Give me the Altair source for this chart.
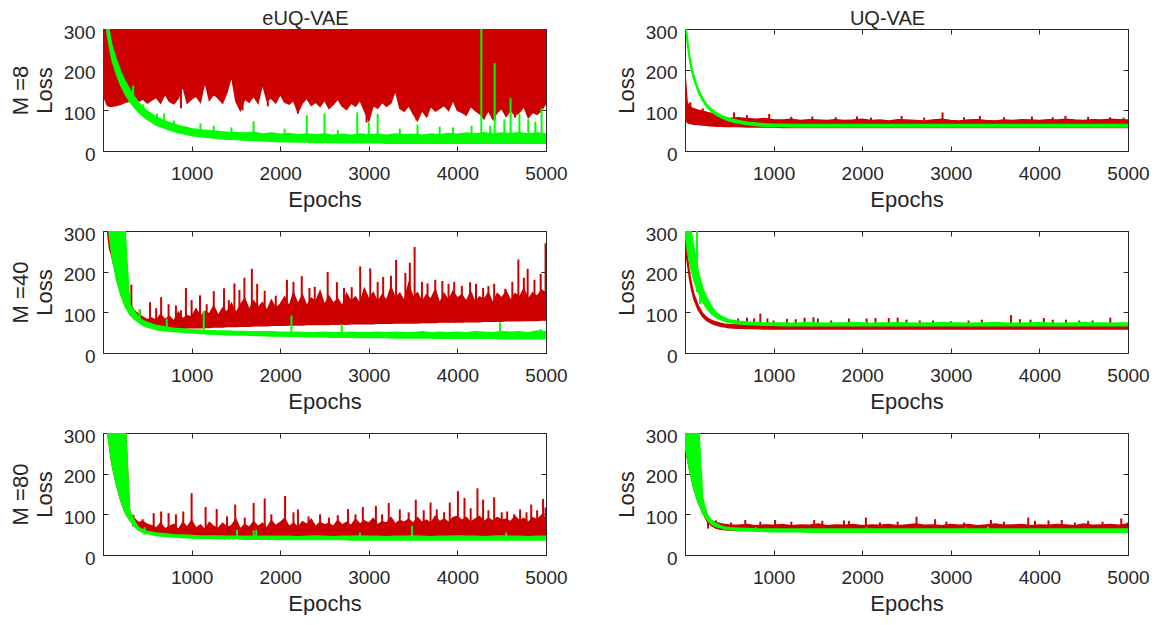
import altair as alt
import pandas as pd

# ---------------- data ----------------
EPOCHS = [0, 25, 50, 75, 100, 150, 200, 250, 300, 350, 400, 450, 500,
          600, 700, 800, 900, 1000, 1100, 1200, 1300, 1400, 1500, 1600, 1700, 1800, 1900, 2000,
          2100, 2200, 2300, 2400, 2500, 2600, 2700, 2800, 2900, 3000,
          3100, 3200, 3300, 3400, 3500, 3600, 3700, 3800, 3900, 4000,
          4100, 4200, 4300, 4400, 4500, 4600, 4700, 4800, 4900, 5000]

# finer epoch grid for the noisiest envelopes
EPOCHS_F = [0, 25, 50, 75, 100, 150, 200, 250, 300, 350, 400, 450, 500,
            550, 600, 650, 700, 750, 800, 850, 900, 950, 1000,
            1050, 1100, 1150, 1200, 1250, 1300, 1350, 1400, 1450, 1500,
            1550, 1600, 1650, 1700, 1750, 1800, 1850, 1900, 1950, 2000,
            2050, 2100, 2150, 2200, 2250, 2300, 2350, 2400, 2450, 2500,
            2550, 2600, 2650, 2700, 2750, 2800, 2850, 2900, 2950, 3000,
            3050, 3100, 3150, 3200, 3250, 3300, 3350, 3400, 3450, 3500,
            3550, 3600, 3650, 3700, 3750, 3800, 3850, 3900, 3950, 4000,
            4050, 4100, 4150, 4200, 4250, 4300, 4350, 4400, 4450, 4500,
            4550, 4600, 4650, 4700, 4750, 4800, 4850, 4900, 4950, 5000]

X_TICKS = [1000, 2000, 3000, 4000, 5000]
Y_TICKS = [0, 100, 200, 300]
COL_TITLES = ["eUQ-VAE", "UQ-VAE"]
ROW_LABELS = ["M =8", "M =40", "M =80"]

# ---- eUQ-VAE, M = 8 ----  (red band reaches above the top of the axis)
E1_RED_LO = [140, 125, 112, 110, 110, 112, 115, 120, 122, 124, 122, 128, 118,
             125, 132, 118, 140, 122, 116, 130, 160, 118, 128,
             135, 120, 172, 125, 140, 130, 118, 145, 185, 122,
             100, 128, 120, 135, 118, 165, 125, 130, 118, 140,
             120, 115, 125, 95, 118, 130, 112, 120, 110, 125,
             105, 115, 128, 110, 102, 118, 110, 125, 100, 75,
             112, 105, 120, 110, 118, 150, 105, 98, 112, 92,
             75, 100, 85, 110, 98, 105, 112, 100, 125, 100,
             95, 88, 110, 100, 92, 80, 100, 78, 95, 105,
             85, 100, 88, 95, 110, 82, 95, 90, 100, 118]
E1_RED_TOP = 330
E1_GRN_LO = [330, 330, 285, 255, 225, 190, 162, 140, 122, 108, 96, 86, 78,
             64, 56, 48, 43, 38, 35, 33, 31, 29, 28, 27, 26, 25, 24, 23,
             23, 22, 22, 21, 21, 21, 20, 20, 20, 20,
             20, 19, 19, 19, 19, 19, 19, 19, 19, 19,
             19, 19, 19, 19, 19, 19, 19, 19, 19, 19]
E1_GRN_HI = [330, 330, 310, 290, 260, 225, 195, 172, 152, 135, 120, 108, 98,
             84, 74, 66, 60, 55, 52, 50, 48, 46, 45, 44, 46, 42, 44, 41,
             43, 40, 42, 40, 42, 39, 41, 39, 42, 40,
             41, 39, 42, 40, 41, 39, 42, 40, 43, 41,
             44, 42, 45, 42, 44, 43, 45, 42, 44, 42]
E1_RED_SPIKES = [(880, 105, 150), (1575, 100, 130), (1860, 110, 140), (2200, 92, 120),
                 (2975, 70, 110), (3538, 75, 110), (3660, 85, 110), (4300, 78, 110),
                 (4420, 75, 100), (4650, 82, 110)]
E1_GRN_SPIKES = [(340, 130, 161), (455, 100, 115), (610, 75, 92), (690, 65, 92), (800, 55, 75),
                 (1100, 45, 68), (1250, 45, 62), (1450, 40, 58), (1700, 40, 73), (2050, 38, 55),
                 (2300, 35, 88), (2500, 35, 92), (2650, 38, 52), (2870, 35, 95), (3000, 35, 70),
                 (3100, 35, 91), (3350, 38, 55), (3550, 35, 65), (3800, 35, 60), (3950, 38, 58),
                 (4160, 35, 62), (4270, 35, 310), (4370, 38, 62), (4420, 35, 216), (4530, 35, 78),
                 (4600, 35, 130), (4700, 35, 91), (4800, 35, 78), (4880, 38, 72), (4950, 35, 105)]

# ---- UQ-VAE, M = 8 ----
U1_RED_LO = [90, 70, 68, 67, 66, 65, 64, 63, 62, 61, 61, 60, 60,
             60, 59, 59, 59, 59, 58, 58, 58, 58, 58, 58, 58, 58, 58, 58,
             58, 58, 58, 58, 58, 58, 58, 58, 58, 58,
             58, 58, 58, 58, 58, 58, 58, 58, 58, 58,
             58, 58, 58, 58, 58, 58, 58, 58, 58, 58]
U1_RED_HI = [190, 118, 112, 106, 104, 100, 98, 95, 92, 88, 85, 83, 80,
             82, 80, 78, 80, 77, 76, 78, 75, 77, 76, 75, 77, 75, 76, 78,
             75, 76, 74, 77, 76, 75, 74, 76, 78, 75,
             74, 76, 77, 75, 74, 76, 75, 77, 76, 75,
             77, 76, 78, 76, 75, 77, 76, 78, 77, 76]
U1_GRN_LO = [330, 265, 225, 196, 176, 145, 123, 107, 97, 89, 83, 78, 74,
             69, 65, 63, 61, 60, 60, 59, 59, 59, 59, 59, 59, 59, 59, 59,
             59, 59, 59, 59, 59, 59, 59, 59, 59, 59,
             59, 59, 59, 59, 59, 59, 59, 59, 59, 59,
             59, 59, 59, 59, 59, 59, 59, 59, 59, 59]
U1_GRN_HI = [330, 280, 238, 206, 186, 152, 130, 113, 103, 95, 89, 84, 80,
             75, 71, 69, 67, 66, 66, 65, 65, 65, 65, 65, 65, 65, 65, 65,
             65, 65, 65, 65, 65, 65, 65, 65, 65, 65,
             65, 65, 65, 65, 65, 65, 65, 65, 65, 65,
             65, 65, 65, 65, 65, 65, 65, 65, 65, 65]
U1_RED_SPIKES = [(60, 100, 120), (200, 95, 105), (554, 75, 95), (700, 75, 88), (950, 75, 91),
                 (1200, 75, 84), (1437, 75, 85), (1700, 75, 83), (1941, 75, 85), (2100, 75, 82),
                 (2445, 75, 86), (2700, 75, 82), (2907, 75, 95), (3150, 75, 83), (3328, 75, 86),
                 (3600, 75, 83), (3916, 75, 85), (4150, 75, 83), (4294, 75, 86), (4550, 75, 84),
                 (4798, 75, 83), (4950, 75, 82)]
U1_GRN_SPIKES = []

# ---- eUQ-VAE, M = 40 ----
E2_RED_LO = [330, 330, 300, 255, 238, 190, 150, 122, 102, 90, 80, 73, 68,
             66, 64, 63, 62, 61, 61, 61, 61, 62, 62,
             62, 62, 63, 63, 64, 64, 64, 65, 65, 65,
             66, 66, 66, 67, 67, 67, 67, 68, 68, 68,
             68, 69, 69, 69, 69, 70, 70, 70, 70, 70,
             70, 71, 71, 71, 71, 72, 72, 72, 72, 72,
             72, 73, 73, 73, 73, 74, 74, 74, 74, 74,
             74, 75, 75, 75, 75, 76, 76, 76, 76, 76,
             76, 77, 77, 77, 77, 78, 78, 78, 78, 78,
             79, 79, 79, 79, 80, 80, 80, 80, 81, 81]
E2_RED_HI = [330, 330, 320, 290, 262, 215, 175, 145, 125, 105, 95, 88, 82,
             86, 80, 95, 82, 90, 78, 100, 84, 92, 88,
             108, 90, 102, 96, 115, 92, 110, 100, 122, 98,
             118, 134, 106, 128, 112, 124, 104, 130, 110, 120,
             138, 114, 148, 120, 143, 116, 135, 126, 152, 118,
             140, 122, 133, 115, 146, 127, 138, 121, 158, 132,
             148, 125, 143, 129, 162, 135, 147, 127, 170, 137,
             148, 125, 143, 132, 156, 122, 146, 129, 152, 135,
             143, 127, 150, 125, 138, 132, 148, 122, 146, 135,
             152, 129, 146, 137, 158, 132, 148, 139, 155, 147]
E2_GRN_LO = [330, 330, 330, 285, 240, 182, 143, 114, 96, 84, 76, 68, 64,
             58, 55, 53, 51, 50, 48, 47, 46, 45, 44, 44, 43, 43, 42, 42,
             41, 41, 40, 40, 40, 39, 39, 39, 38, 38,
             38, 38, 37, 37, 37, 37, 37, 36, 36, 36,
             36, 36, 36, 36, 35, 35, 35, 35, 35, 35]
E2_GRN_HI = [330, 330, 330, 330, 330, 330, 330, 300, 120, 104, 88, 80, 75,
             68, 64, 61, 59, 57, 56, 55, 54, 54, 53, 53, 52, 52, 52, 51,
             51, 51, 50, 50, 51, 50, 50, 51, 50, 50,
             51, 50, 51, 50, 50, 52, 50, 51, 50, 51,
             50, 52, 51, 50, 53, 51, 52, 50, 54, 52]
E2_RED_SPIKES = [(320, 90, 168), (414, 80, 107), (530, 70, 125), (600, 70, 110), (656, 70, 137),
                 (740, 70, 120), (823, 70, 117), (880, 70, 105), (936, 70, 160), (1000, 70, 130),
                 (1095, 70, 142), (1170, 70, 120), (1250, 70, 152), (1366, 70, 159), (1420, 70, 130),
                 (1483, 70, 171), (1540, 70, 155), (1596, 70, 185), (1680, 70, 207), (1740, 70, 170),
                 (1825, 70, 153), (1950, 70, 141), (2076, 75, 180), (2150, 75, 175), (2243, 75, 189),
                 (2330, 75, 160), (2390, 75, 163), (2536, 75, 199), (2640, 75, 174), (2720, 75, 160),
                 (2807, 75, 162), (2903, 75, 213), (3016, 75, 208), (3100, 75, 175), (3162, 75, 187),
                 (3250, 75, 190), (3308, 75, 229), (3413, 75, 197), (3463, 75, 222), (3517, 75, 261),
                 (3600, 75, 175), (3663, 75, 171), (3750, 75, 180), (3830, 75, 177), (3900, 75, 170),
                 (3964, 75, 175), (4050, 80, 165), (4143, 80, 174), (4210, 80, 170), (4290, 80, 160),
                 (4350, 80, 165), (4415, 80, 170), (4540, 80, 158), (4620, 80, 175), (4688, 80, 230),
                 (4750, 80, 185), (4793, 80, 207), (4870, 80, 180), (4940, 80, 195), (4995, 80, 270)]
E2_GRN_SPIKES = [(230, 200, 300), (300, 100, 147), (414, 80, 107), (719, 60, 84), (1137, 55, 103),
                 (2127, 50, 92), (2695, 50, 71), (4480, 50, 75), (4940, 50, 59)]

# ---- UQ-VAE, M = 40 ----
U2_RED_LO = [270, 225, 185, 155, 133, 106, 89, 79, 73, 69, 66, 64, 62,
             61, 60, 60, 59, 59, 59, 59, 59, 59, 59, 59, 59, 59, 59, 59,
             59, 59, 59, 59, 59, 59, 59, 59, 59, 59,
             59, 59, 59, 59, 59, 59, 59, 59, 59, 59,
             59, 59, 59, 59, 59, 59, 59, 59, 59, 59]
U2_RED_HI = [290, 240, 198, 168, 145, 116, 97, 86, 80, 76, 73, 71, 70,
             69, 68, 68, 68, 68, 68, 68, 68, 68, 68, 68, 68, 68, 68, 68,
             68, 68, 68, 68, 68, 68, 68, 68, 68, 68,
             68, 68, 68, 68, 68, 68, 68, 68, 68, 68,
             68, 68, 68, 68, 68, 68, 68, 68, 68, 68]
U2_GRN_LO = [300, 255, 225, 200, 178, 148, 125, 108, 96, 88, 82, 78, 75,
             72, 70, 69, 68, 68, 67, 67, 67, 67, 67, 67, 67, 67, 67, 67,
             67, 67, 67, 67, 67, 67, 67, 67, 67, 67,
             67, 67, 67, 67, 67, 67, 67, 67, 67, 67,
             67, 67, 67, 67, 67, 67, 67, 67, 67, 67]
U2_GRN_HI = [330, 330, 320, 290, 260, 200, 160, 135, 115, 100, 92, 86, 82,
             78, 76, 75, 74, 74, 74, 73, 74, 75, 74, 73, 74, 74, 75, 74,
             73, 74, 74, 75, 74, 73, 74, 74, 75, 74,
             74, 73, 74, 74, 75, 74, 73, 74, 74, 75,
             74, 73, 74, 74, 75, 74, 74, 73, 74, 74]
U2_RED_SPIKES = [(600, 68, 85), (700, 68, 87), (780, 68, 85), (850, 68, 97), (930, 68, 85),
                 (1000, 68, 80), (1150, 68, 84), (1250, 68, 83), (1350, 68, 87), (1450, 68, 88),
                 (1500, 68, 85), (1650, 68, 80), (1850, 68, 85), (2050, 68, 85), (2150, 68, 86),
                 (2300, 68, 86), (2400, 68, 87), (2500, 68, 82), (2650, 68, 80), (2800, 68, 80),
                 (3000, 68, 78), (3200, 68, 80), (3350, 68, 82), (3680, 68, 93), (3780, 68, 83),
                 (3900, 68, 82), (4050, 68, 86), (4150, 68, 82), (4300, 68, 82), (4450, 68, 80),
                 (4600, 68, 80), (4800, 68, 87)]
U2_GRN_SPIKES = [(40, 250, 310), (134, 150, 310), (170, 120, 178)]

# ---- eUQ-VAE, M = 80 ----
E3_RED_LO = [330, 330, 305, 265, 225, 175, 135, 105, 88, 72, 62, 57, 54,
             52, 51, 50, 50, 49, 49, 48, 48, 48, 48,
             47, 47, 47, 47, 47, 47, 47, 47, 47, 47,
             47, 47, 47, 47, 47, 47, 47, 47, 47, 47,
             47, 47, 47, 47, 47, 47, 47, 47, 47, 47,
             47, 47, 47, 47, 47, 47, 47, 47, 47, 47,
             47, 47, 47, 47, 47, 47, 47, 47, 47, 47,
             47, 47, 47, 47, 47, 47, 47, 47, 47, 47,
             47, 47, 47, 47, 47, 47, 47, 47, 47, 47,
             47, 47, 47, 47, 47, 47, 47, 47, 47, 47]
E3_RED_HI = [330, 330, 330, 330, 330, 330, 330, 330, 100, 90, 80, 82, 75,
             72, 66, 78, 64, 70, 75, 62, 80, 68, 85,
             66, 74, 62, 80, 70, 65, 78, 68, 72, 88,
             64, 75, 68, 82, 70, 78, 66, 85, 72, 80,
             90, 70, 78, 68, 82, 75, 88, 70, 80, 74,
             78, 70, 85, 74, 80, 72, 88, 76, 84, 78,
             90, 74, 82, 78, 92, 76, 85, 80, 88, 78,
             92, 80, 86, 78, 95, 82, 88, 80, 92, 95,
             85, 92, 80, 88, 95, 82, 90, 84, 92, 86,
             88, 82, 95, 84, 90, 80, 92, 86, 98, 90]
E3_GRN_LO = [330, 330, 305, 265, 225, 175, 135, 105, 87, 72, 62, 56, 53,
             48, 46, 44, 43, 42, 41, 41, 40, 40, 40, 39, 39, 39, 39, 38,
             38, 38, 38, 38, 38, 38, 38, 37, 37, 37,
             37, 37, 37, 37, 37, 37, 37, 37, 37, 37,
             37, 37, 37, 37, 37, 37, 37, 37, 37, 37]
E3_GRN_HI = [330, 330, 330, 330, 330, 330, 330, 330, 112, 85, 68, 62, 58,
             54, 52, 50, 49, 48, 47, 47, 47, 46, 46, 46, 46, 46, 46, 46,
             46, 45, 46, 47, 46, 45, 46, 46, 47, 46,
             46, 45, 46, 46, 47, 46, 45, 46, 46, 47,
             46, 46, 45, 46, 47, 46, 46, 45, 46, 46]
E3_RED_SPIKES = [(343, 70, 99), (447, 60, 88), (572, 55, 103), (656, 55, 107), (740, 55, 103),
                 (823, 55, 100), (906, 55, 107), (1000, 55, 152), (1158, 55, 118), (1283, 55, 113),
                 (1400, 55, 95), (1492, 55, 124), (1600, 55, 92), (1700, 55, 128), (1825, 55, 139),
                 (1900, 55, 100), (2055, 55, 145), (2150, 55, 105), (2200, 55, 112), (2320, 55, 95),
                 (2450, 55, 100), (2550, 55, 92), (2650, 55, 98), (2765, 55, 113), (2850, 55, 100),
                 (2933, 55, 118), (3080, 55, 121), (3150, 55, 100), (3225, 55, 128), (3350, 55, 112),
                 (3450, 55, 105), (3530, 55, 136), (3620, 55, 110), (3697, 55, 129), (3768, 55, 112),
                 (3850, 55, 105), (3914, 55, 129), (4006, 55, 157), (4080, 55, 140), (4150, 55, 115),
                 (4226, 55, 164), (4290, 55, 136), (4350, 55, 110), (4415, 55, 142), (4500, 55, 105),
                 (4562, 55, 107), (4640, 55, 100), (4708, 55, 112), (4780, 55, 105), (4833, 55, 124),
                 (4900, 55, 110), (4967, 55, 138), (4995, 55, 117)]
E3_GRN_SPIKES = [(470, 50, 68), (1512, 42, 62), (1700, 42, 60), (1730, 42, 62), (2900, 42, 55),
                 (3488, 42, 72), (4550, 42, 55)]

# ---- UQ-VAE, M = 80 ----
U3_RED_LO = [270, 240, 212, 188, 163, 129, 105, 82, 72, 66, 63, 62, 61,
             60, 60, 60, 60, 60, 60, 60, 60, 60, 60, 60, 60, 60, 60, 60,
             60, 60, 60, 60, 60, 60, 60, 60, 60, 60,
             60, 60, 60, 60, 60, 60, 60, 60, 60, 60,
             60, 60, 60, 60, 60, 60, 60, 60, 60, 60]
U3_RED_HI = [275, 245, 215, 190, 168, 135, 110, 90, 84, 80, 77, 75, 74,
             73, 75, 72, 74, 73, 75, 72, 74, 73, 76, 72, 74, 73, 75, 72,
             74, 73, 75, 72, 74, 76, 73, 74, 72, 75,
             73, 75, 72, 74, 76, 73, 74, 75, 72, 74,
             73, 75, 74, 72, 76, 73, 74, 75, 73, 76]
U3_GRN_LO = [270, 240, 212, 188, 163, 129, 105, 86, 76, 70, 67, 64, 62,
             61, 60, 59, 58, 57, 57, 57, 57, 56, 56, 56, 56, 56, 56, 56,
             56, 56, 56, 56, 56, 56, 56, 56, 56, 56,
             56, 56, 56, 56, 56, 56, 56, 56, 56, 56,
             56, 56, 56, 56, 56, 56, 56, 56, 56, 56]
U3_GRN_HI = [330, 330, 330, 330, 330, 330, 140, 100, 85, 78, 72, 69, 67,
             66, 65, 64, 64, 64, 64, 64, 64, 64, 64, 64, 64, 64, 64, 64,
             64, 64, 64, 64, 64, 64, 64, 64, 64, 64,
             64, 64, 64, 64, 64, 64, 64, 64, 64, 64,
             64, 64, 64, 64, 64, 64, 64, 64, 64, 64]
U3_RED_SPIKES = [(260, 65, 88), (350, 65, 85), (520, 65, 80), (680, 65, 86), (850, 65, 82),
                 (1017, 65, 86), (1200, 65, 82), (1458, 65, 86), (1550, 65, 84), (1794, 65, 85),
                 (1850, 65, 84), (2042, 65, 92), (2200, 65, 80), (2400, 65, 82), (2613, 65, 94),
                 (2823, 65, 88), (2950, 65, 82), (3150, 65, 80), (3453, 65, 86), (3600, 65, 82),
                 (3874, 65, 92), (3950, 65, 84), (4103, 65, 85), (4252, 65, 86), (4400, 65, 80),
                 (4550, 65, 84), (4713, 65, 82), (4924, 65, 90), (4995, 65, 80)]
U3_GRN_SPIKES = [(197, 100, 132), (800, 60, 68), (2050, 60, 68), (3170, 60, 68), (3420, 60, 70)]

# ---------------- styling ----------------
FONT = "Liberation Sans"
TXT = "#262626"
RED = "#CC0000"
GREEN = "#00FF00"
W, H = 443, 122

XS = alt.Scale(domain=[0, 5000], nice=False, zero=False)
YS = alt.Scale(domain=[0, 300], nice=False, zero=False)


def band_df(epochs, lo, hi=None):
    d = {"epoch": epochs, "lo": lo}
    if hi is not None:
        d["hi"] = hi
    return pd.DataFrame(d)


def spike_df(sp):
    return pd.DataFrame(sp, columns=["epoch", "y0", "y1"])


def panel(red, grn, red_sp, grn_sp, ytitle, title=None):
    r_ep, r_lo, r_hi = red
    g_ep, g_lo, g_hi = grn
    const_top = isinstance(r_hi, (int, float))
    red_y2 = alt.datum(r_hi) if const_top else alt.Y2("hi:Q")
    red_df = band_df(r_ep, r_lo, None if const_top else r_hi)
    red_ch = alt.Chart(red_df).mark_area(
        color=RED, stroke=RED, strokeWidth=1.5, opacity=1, clip=True
    ).encode(
        x=alt.X("epoch:Q", scale=XS, axis=alt.Axis(
            orient="bottom", values=X_TICKS, format="d", tickSize=5, offset=-5,
            domain=False, grid=False, labelFlush=False, labelOverlap=False,
            labelPadding=13, title="Epochs", titlePadding=6)),
        y=alt.Y("lo:Q", scale=YS, axis=alt.Axis(
            orient="left", values=Y_TICKS, tickSize=5, offset=-5, domain=False,
            grid=False, labelPadding=8, labelOffset=3, labelOverlap=False,
            labelFlush=False, title=ytitle, titlePadding=7, titleLineHeight=24)),
        y2=red_y2,
    )
    layers = [red_ch]
    if red_sp:
        layers.append(alt.Chart(spike_df(red_sp)).mark_rule(
            color=RED, strokeWidth=2, clip=True).encode(
            x=alt.X("epoch:Q", scale=XS, axis=None),
            y=alt.Y("y0:Q", scale=YS, axis=None),
            y2="y1:Q"))
    green = alt.Chart(band_df(g_ep, g_lo, g_hi)).mark_area(
        color=GREEN, stroke=GREEN, strokeWidth=1.5, opacity=1, clip=True
    ).encode(
        x=alt.X("epoch:Q", scale=XS, axis=alt.Axis(
            orient="top", values=X_TICKS, tickSize=5, offset=-5, domain=False,
            grid=False, labels=False, title=None)),
        y=alt.Y("lo:Q", scale=YS, axis=alt.Axis(
            orient="right", values=Y_TICKS, tickSize=5, offset=-5, domain=False,
            grid=False, labels=False, title=None)),
        y2="hi:Q",
    )
    layers.append(green)
    if grn_sp:
        layers.append(alt.Chart(spike_df(grn_sp)).mark_rule(
            color=GREEN, strokeWidth=2, clip=True).encode(
            x=alt.X("epoch:Q", scale=XS, axis=None),
            y=alt.Y("y0:Q", scale=YS, axis=None),
            y2="y1:Q"))
    ch = alt.layer(*layers).resolve_axis(x="independent", y="independent")
    props = dict(width=W, height=H)
    if title:
        props["title"] = alt.TitleParams(title, anchor="middle", frame="group", dx=-19,
                                         offset=-6, fontSize=20, fontWeight="normal",
                                         font=FONT, color=TXT)
    return ch.properties(**props)


HSP = 46
r1 = alt.hconcat(
    panel((EPOCHS_F, E1_RED_LO, E1_RED_TOP), (EPOCHS, E1_GRN_LO, E1_GRN_HI),
          E1_RED_SPIKES, E1_GRN_SPIKES, [ROW_LABELS[0], "Loss"], COL_TITLES[0]),
    panel((EPOCHS, U1_RED_LO, U1_RED_HI), (EPOCHS, U1_GRN_LO, U1_GRN_HI),
          U1_RED_SPIKES, U1_GRN_SPIKES, "Loss", COL_TITLES[1]),
    spacing=HSP)
r2 = alt.hconcat(
    panel((EPOCHS_F, E2_RED_LO, E2_RED_HI), (EPOCHS, E2_GRN_LO, E2_GRN_HI),
          E2_RED_SPIKES, E2_GRN_SPIKES, [ROW_LABELS[1], "Loss"]),
    panel((EPOCHS, U2_RED_LO, U2_RED_HI), (EPOCHS, U2_GRN_LO, U2_GRN_HI),
          U2_RED_SPIKES, U2_GRN_SPIKES, "Loss"),
    spacing=HSP)
r3 = alt.hconcat(
    panel((EPOCHS_F, E3_RED_LO, E3_RED_HI), (EPOCHS, E3_GRN_LO, E3_GRN_HI),
          E3_RED_SPIKES, E3_GRN_SPIKES, [ROW_LABELS[2], "Loss"]),
    panel((EPOCHS, U3_RED_LO, U3_RED_HI), (EPOCHS, U3_GRN_LO, U3_GRN_HI),
          U3_RED_SPIKES, U3_GRN_SPIKES, "Loss"),
    spacing=HSP)

chart = alt.vconcat(r1, r2, r3, spacing=13).properties(
    padding={"left": 0, "top": 0, "right": 0, "bottom": 0}
).configure_view(
    stroke=TXT, strokeWidth=1
).configure_axis(
    labelFont=FONT, titleFont=FONT, labelFontSize=19, titleFontSize=22,
    labelColor=TXT, titleColor=TXT, tickColor=TXT, tickWidth=1,
    titleFontWeight="normal"
).configure_title(
    font=FONT, fontSize=20, fontWeight="normal", color=TXT
)

chart.save("out.html", embed_options={"renderer": "svg", "actions": False})
